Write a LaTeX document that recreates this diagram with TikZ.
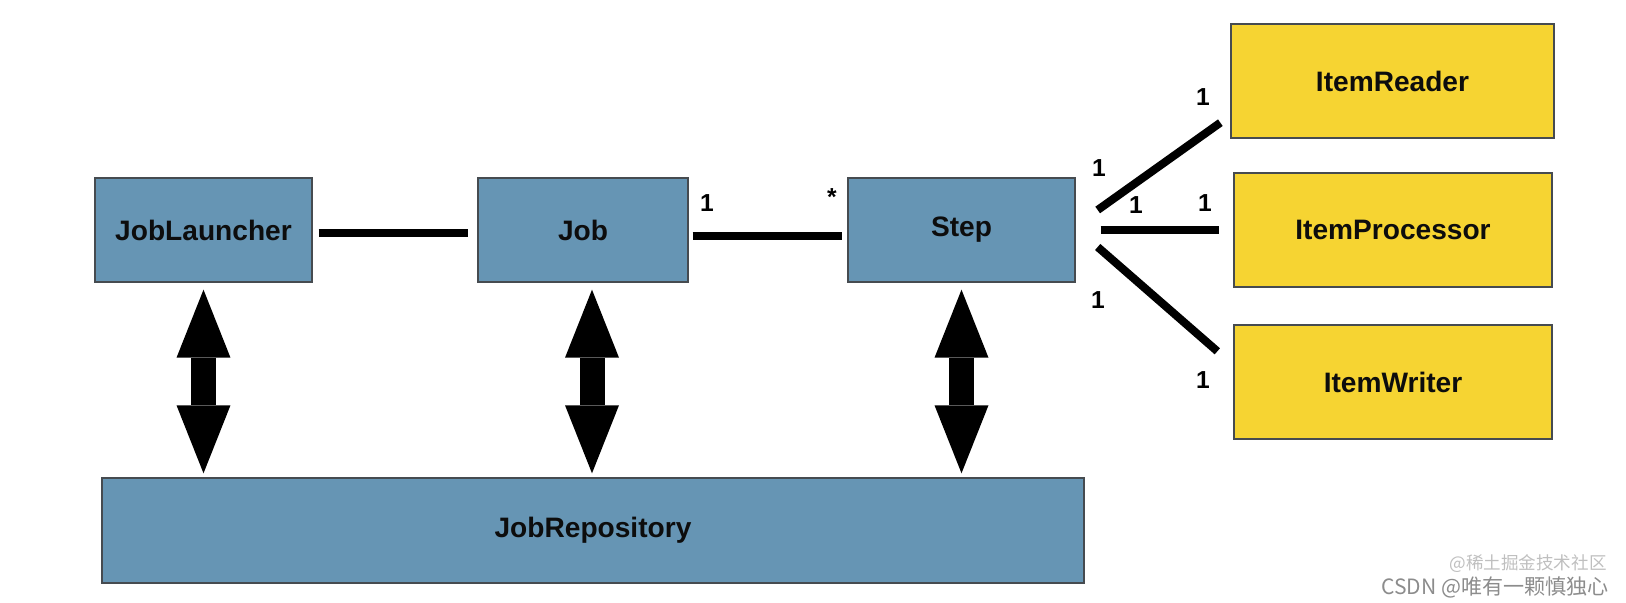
\documentclass[tikz,border=0pt]{standalone}
\usepackage{fontspec}
\setmainfont{Liberation Sans}
\newfontfamily\cjk{Noto Sans CJK SC}
\usetikzlibrary{arrows.meta}
\usetikzlibrary{positioning}
\definecolor{boxblue}{RGB}{102,149,180}
\definecolor{boxyellow}{RGB}{246,212,50}
\definecolor{boxline}{RGB}{70,75,80}

\begin{document}
\begin{tikzpicture}[x=0.02cm,y=0.02cm,
		box/.style={draw=boxline,line width=0.8pt,fill=boxblue,inner sep=0pt,text=black!95,font=\fontsize{16}{19}\selectfont\bfseries},
		item/.style={box,fill=boxyellow},
		assoc/.style={line width=4.6pt},
		dbl/.style={line width=0.5cm,shorten <=0.14cm,shorten >=0.08cm,
			{Triangle[length=1.36cm,width=1.08cm,line width=0pt]}-{Triangle[length=1.36cm,width=1.08cm,line width=0pt]}},
		mult/.style={inner sep=0pt,font=\fontsize{14}{16}\selectfont\bfseries}]
		\useasboundingbox (0,0) rectangle (1626,602);
		\node[box,minimum width=4.34cm,minimum height=2.08cm] (jl) at (203.5,372) {JobLauncher};
		\node[box,minimum width=4.2cm,minimum height=2.08cm] (job) at (583,372) {Job};
		\node[box,minimum width=4.54cm,minimum height=2.08cm] (step) at (961.5,372) {Step};
		\node[box,minimum width=19.64cm,minimum height=2.1cm] (repo) at (593,71.5) {JobRepository};
		\node[item,minimum width=6.46cm,minimum height=2.28cm] (reader) at (1392.5,521) {ItemReader};
		\node[item,minimum width=6.36cm,minimum height=2.28cm] (proc) at (1393,372) {ItemProcessor};
		\node[item,minimum width=6.36cm,minimum height=2.28cm] (writer) at (1393,220) {ItemWriter};

		\draw[assoc,shorten <=0.12cm,shorten >=0.18cm] ([yshift=-0.06cm]jl.east) -- ([yshift=-0.06cm]job.west);
		\draw[assoc,shorten <=0.08cm,shorten >=0.1cm] ([yshift=-0.12cm]job.east) -- ([yshift=-0.12cm]step.west);
		\draw[assoc] ([shift={(22,20)}]step.east) -- ([shift={(-10,16)}]reader.south west);
		\draw[assoc] ([shift={(25,0)}]step.east) -- ([shift={(-14,0)}]proc.west);
		\draw[assoc] ([shift={(22,-17)}]step.east) -- ([shift={(-16,-27)}]writer.north west);

		\coordinate (jt) at ([xshift=0.18cm]job.south);
		\draw[dbl] (jl.south) -- (jl.south |- repo.north);
		\draw[dbl] (jt) -- (jt |- repo.north);
		\draw[dbl] (step.south) -- (step.south |- repo.north);

		\node[mult] (m1) at (707,399) {1};
		\node[mult] (m2) at (832,405) {*};
		\node[mult] (m3) at (1099,434) {1};
		\node[mult] (m4) at (1203,505) {1};
		\node[mult] (m5) at (1136,397) {1};
		\node[mult] (m6) at (1205,399) {1};
		\node[mult] (m7) at (1098,302) {1};
		\node[mult] (m8) at (1203,222) {1};

		\node[anchor=east,inner sep=0pt,text=black!25,font=\cjk\fontsize{10}{12}\selectfont] (wm2) at (1607,38) {@稀土掘金技术社区};
		\node[anchor=east,inner sep=0pt,text=black!45,font=\cjk\fontsize{12}{14}\selectfont] (wm1) at (1609,15) {CSDN @唯有一颗慎独心};
		\end{tikzpicture}
\end{document}
